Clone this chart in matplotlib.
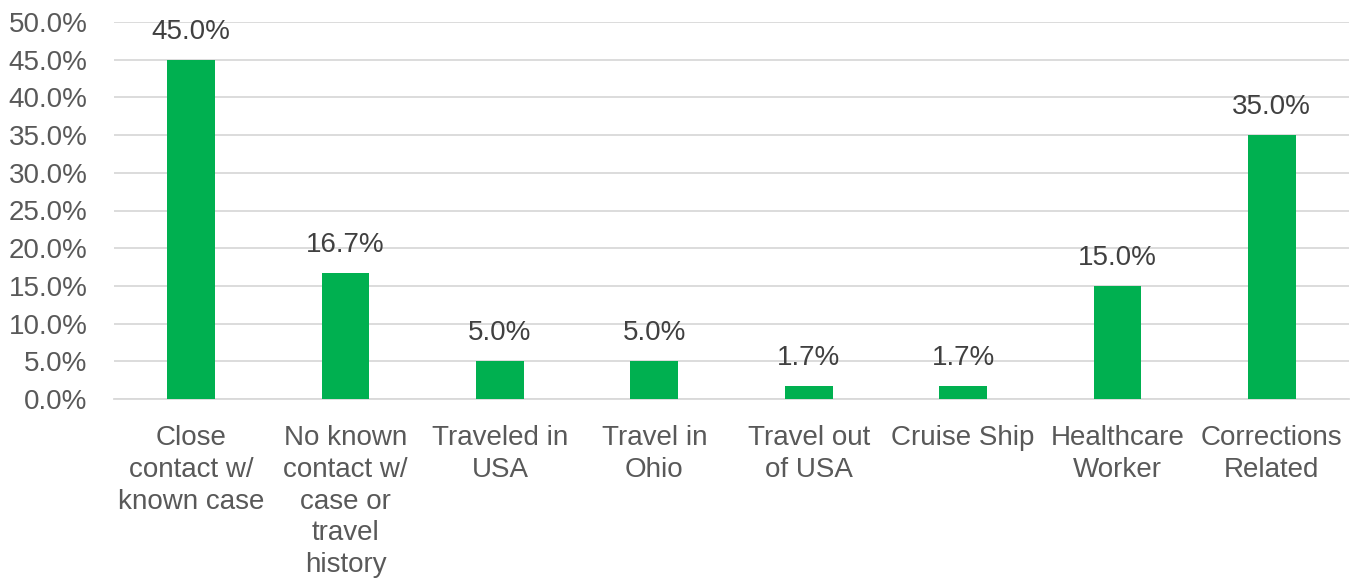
import matplotlib.pyplot as plt
from matplotlib.ticker import FuncFormatter, MultipleLocator

categories = [
    "Close\ncontact w/\nknown case",
    "No known\ncontact w/\ncase or\ntravel\nhistory",
    "Traveled in\nUSA",
    "Travel in\nOhio",
    "Travel out\nof USA",
    "Cruise Ship",
    "Healthcare\nWorker",
    "Corrections\nRelated",
]
values = [45.0, 16.7, 5.0, 5.0, 1.7, 1.7, 15.0, 35.0]

GREEN = "#00B050"
GRID = "#D9D9D9"
TICK = "#595959"
LABEL = "#404040"

plt.rcParams["font.family"] = ["Liberation Sans", "DejaVu Sans"]

fig = plt.figure(figsize=(13.57, 5.82), dpi=100)
ax = fig.add_axes([114 / 1357, 1 - 399 / 582, (1349 - 114) / 1357, (399 - 22) / 582])

x = range(len(values))
ax.bar(x, values, width=0.31, color=GREEN, zorder=3)
for xi, v in zip(x, values):
    ax.text(xi, v + 2.0, f"{v:.1f}%", ha="center", va="bottom",
            fontsize=20, color=LABEL)

ax.set_xlim(-0.5, len(values) - 0.5)
ax.set_ylim(0, 50)
ax.yaxis.set_major_locator(MultipleLocator(5))
ax.yaxis.set_major_formatter(FuncFormatter(lambda v, p: f"{v:.1f}%"))
ax.grid(axis="y", color=GRID, linewidth=1.3, zorder=0)
for s in ["top", "right", "left"]:
    ax.spines[s].set_visible(False)
ax.spines["bottom"].set_color(GRID)
ax.spines["bottom"].set_linewidth(1.3)
ax.set_xticks(list(x))
ax.set_xticklabels(categories, fontsize=20, color=TICK, linespacing=1.28)
ax.tick_params(axis="x", length=0, pad=19)
ax.tick_params(axis="y", length=0, labelsize=20, labelcolor=TICK, pad=19)

fig.savefig("out.png", dpi=100)
